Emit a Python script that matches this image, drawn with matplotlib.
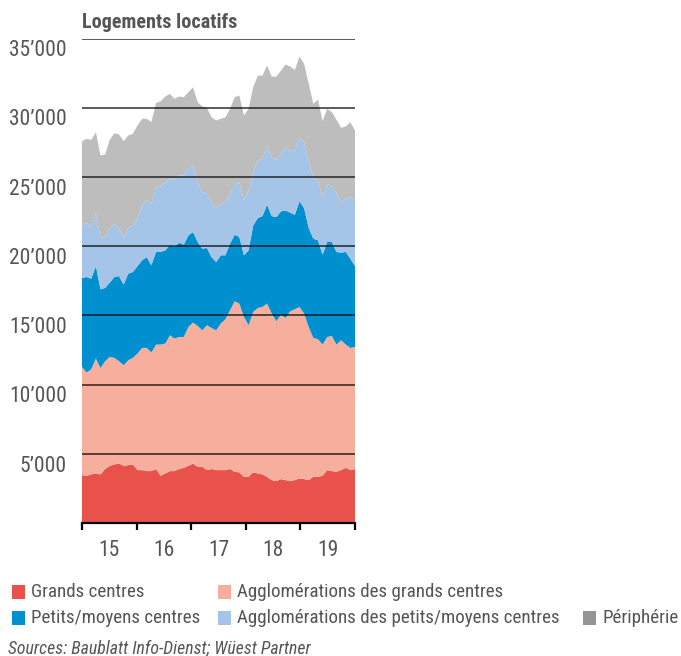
import numpy as np
import matplotlib
matplotlib.use("Agg")
from matplotlib import pyplot as plt
from matplotlib import font_manager
from matplotlib.patches import Rectangle
from matplotlib.transforms import ScaledTranslation

# monthly values Jan 2015 - Dec 2019 (logements locatifs)
grands_centres = [3460, 3410, 3510, 3580, 3510, 3900, 4130, 4230, 4300, 4130, 4180, 4230,
                  3820, 3820, 3750, 3750, 3900, 3410, 3580, 3750, 3750, 3900, 3990, 4130,
                  4300, 4060, 4060, 3820, 3900, 3820, 3820, 3820, 3900, 3700, 3660, 3340,
                  3340, 3660, 3580, 3510, 3340, 3100, 3030, 3170, 3100, 3030, 3100, 3220,
                  3170, 3100, 3340, 3340, 3410, 3820, 3750, 3700, 3820, 3990, 3820, 3900]
aggl_grands = [7820, 7460, 7600, 8300, 7690, 7790, 7870, 7700, 7390, 7270, 7580, 7700,
               8420, 8830, 8900, 8570, 8990, 9480, 9390, 9810, 9580, 9540, 9450, 10030,
               10180, 10180, 9860, 10470, 10190, 10100, 10590, 10900, 11470, 12320, 12190, 11550,
               10950, 11590, 11950, 12100, 12510, 12030, 11540, 11890, 11710, 12270, 12340, 12390,
               11960, 11060, 10030, 9940, 9480, 9620, 9760, 9190, 9380, 8900, 8830, 8820]
petits_moyens = [6420, 6900, 6540, 6680, 5680, 5290, 5370, 5840, 6150, 5820, 6260, 6200,
                 6320, 6330, 6560, 6300, 6690, 6690, 6730, 6500, 6610, 6810, 6670, 6620,
                 6540, 6060, 5900, 5580, 5120, 4930, 4930, 4620, 4810, 4810, 4810, 4450,
                 5410, 6250, 6500, 6560, 7140, 7040, 7530, 7450, 7770, 7120, 6830, 7620,
                 7620, 7150, 7170, 7140, 6500, 6860, 6790, 6690, 6330, 6690, 6450, 5840]
aggl_petits = [3870, 3900, 3680, 3780, 3730, 3680, 3890, 3850, 3420, 3390, 3310, 3370,
               3420, 3960, 4140, 4440, 4680, 4730, 4920, 4870, 4850, 4860, 5000, 4810,
               4810, 4320, 4080, 3960, 3970, 3930, 3680, 3770, 3610, 3630, 3960, 3960,
               4330, 3770, 4160, 4140, 4280, 4210, 4140, 4160, 4570, 4490, 4590, 4640,
               4760, 4830, 4330, 4330, 4110, 4160, 4090, 4250, 3650, 3850, 4440, 4740]
peripherie = [6010, 6080, 6350, 5890, 5940, 5960, 6420, 6540, 6810, 6970, 6660, 6620,
              6740, 6260, 5850, 5900, 6070, 6160, 6190, 6070, 5850, 5700, 5650, 5530,
              5650, 5780, 6190, 6160, 6130, 6300, 6180, 6200, 6130, 6300, 6260, 6140,
              5890, 6210, 6130, 6010, 5770, 5870, 6010, 6010, 5970, 6060, 5870, 5820,
              5660, 5580, 5410, 5820, 5530, 5460, 5290, 5300, 5370, 5210, 5420, 5050]

series_names = ["Grands centres", "Agglomérations des grands centres",
                "Petits/moyens centres", "Agglomérations des petits/moyens centres",
                "Périphérie"]
colors = ["#E8524A", "#F5AF9C", "#0090CF", "#A4C5E8", "#BDBDBD"]
legend_colors = ["#E8524A", "#F5AF9C", "#0090CF", "#A4C5E8", "#959595"]
years = [2015, 2016, 2017, 2018, 2019]
year_labels = ["15", "16", "17", "18", "19"]
y_ticks = [5000, 10000, 15000, 20000, 25000, 30000, 35000]

# pick a narrow font if there is one
available = {f.name for f in font_manager.fontManager.ttflist}
family = "DejaVu Sans"
for name in ["Roboto Condensed", "Liberation Sans Narrow", "Open Sans Condensed"]:
    if name in available:
        family = name
        break
plt.rcParams["font.family"] = [family, "DejaVu Sans"]
if family == "DejaVu Sans":
    plt.rcParams["font.stretch"] = "condensed"

text_color = "#555555"
W, H = 681, 656
fig = plt.figure(figsize=(W / 100, H / 100), dpi=100)
ax = fig.add_axes([82 / W, 1 - 523 / H, 273 / W, (523 - 38.5) / H])

x = np.linspace(2015, 2020, len(grands_centres))
ax.stackplot(x, grands_centres, aggl_grands, petits_moyens, aggl_petits, peripherie,
             colors=colors, linewidth=0)

for v in y_ticks:
    ax.axhline(v, color="black", lw=1.2, alpha=0.75, zorder=3)

ax.set_xlim(2015, 2020)
ax.set_ylim(0, 35000)

for s in ["top", "right", "left"]:
    ax.spines[s].set_visible(False)
ax.spines["bottom"].set_linewidth(1.6)
ax.spines["bottom"].set_zorder(4)

ax.set_yticks(y_ticks)
ax.set_yticklabels([f"{v:,}".replace(",", "\u2019") for v in y_ticks])
ax.tick_params(axis="y", length=0, pad=11, labelsize=15.5, labelcolor=text_color)
shift = ScaledTranslation(0, -7 / 72, fig.dpi_scale_trans)
for lbl in ax.get_yticklabels():
    lbl.set_transform(lbl.get_transform() + shift)

ax.set_xticks(years + [2020])
ax.set_xticklabels([])
ax.set_xticks([y + 0.5 for y in years], minor=True)
ax.set_xticklabels(year_labels, minor=True)
ax.tick_params(axis="x", which="major", length=5, width=1.6, color="black")
ax.tick_params(axis="x", which="minor", length=0, pad=12, labelsize=15.5, labelcolor=text_color)

fig.text(82 / W, 1 - 22 / H, "Logements locatifs", fontsize=14.5, fontweight="bold",
         color=text_color, va="center", ha="left")

# legend drawn by hand (uneven layout)
legend_pos = [(12, 592), (218, 592), (12, 618), (218, 618), (583, 618)]
for (px, py), name, c in zip(legend_pos, series_names, legend_colors):
    fig.add_artist(Rectangle((px / W, 1 - (py + 7) / H), 13 / W, 14 / H,
                             transform=fig.transFigure, color=c, lw=0))
    fig.text((px + 19) / W, 1 - py / H, name, fontsize=13.7, color=text_color,
             va="center", ha="left")

fig.text(8 / W, 1 - 648 / H, "Sources: Baublatt Info-Dienst; Wüest Partner",
         fontsize=12.8, style="italic", color=text_color, va="center", ha="left")

fig.savefig("out.png", dpi=100)
